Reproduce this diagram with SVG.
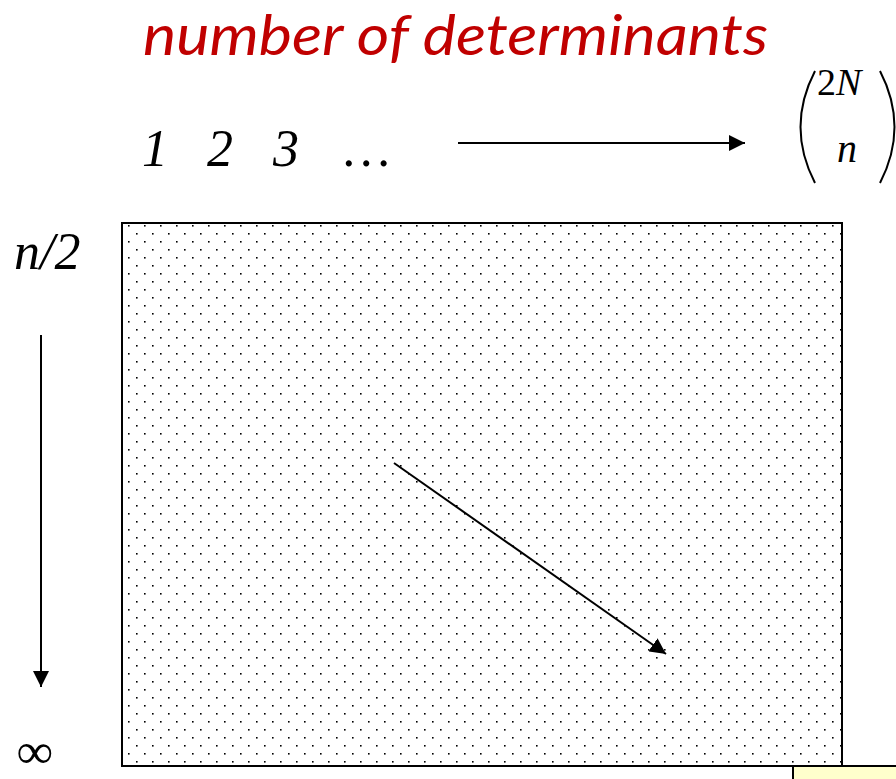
<svg xmlns="http://www.w3.org/2000/svg" width="896" height="779" viewBox="0 0 896 779">
<style>
.title{font-family:"Lato","Liberation Sans",sans-serif;font-style:italic;font-size:56px;fill:#C00000}
.math{font-family:"Liberation Serif","Times New Roman",serif;font-style:italic;fill:#000}
.up{font-family:"Liberation Serif","Times New Roman",serif;fill:#000}
.conn{stroke:#000;stroke-width:2;fill:none}
</style>
<defs>
<pattern id="dots" x="122" y="222" width="16" height="16" patternUnits="userSpaceOnUse">
<rect x="6" y="3" width="1.6" height="1.6" fill="#000"/>
<rect x="14" y="11" width="1.6" height="1.6" fill="#000"/>
</pattern>
<marker id="ahL" viewBox="0 0 10 10" refX="10" refY="5" markerWidth="16" markerHeight="16" orient="auto" markerUnits="userSpaceOnUse">
<path d="M0,0 L10,5 L0,10 Z" fill="#000"/>
</marker>
</defs>
<rect width="896" height="779" fill="#fff"/>
<g id="title"><text class="title" x="143" y="55" textLength="625" lengthAdjust="spacingAndGlyphs">number of determinants</text></g>
<g id="counts">
<text class="math" x="142" y="166" font-size="52">1</text>
<text class="math" x="207" y="166" font-size="52">2</text>
<text class="math" x="273" y="166" font-size="52">3</text>
<text class="math" x="344" y="166" font-size="52">…</text>
</g>
<g id="binomial">
<path d="M815,71 Q786,127 815,183" stroke="#000" stroke-width="2" fill="none"/>
<path d="M880,71 Q909,127 880,183" stroke="#000" stroke-width="2" fill="none"/>
<text class="up" x="817" y="95" font-size="38">2<tspan class="math">N</tspan></text>
<text class="math" x="837" y="162" font-size="40">n</text>
</g>
<g id="n-half"><text class="math" x="14" y="269" font-size="52">n/2</text></g>
<g id="infinity"><text class="math" x="17" y="768" font-size="50">∞</text></g>
<g id="grid">
<rect x="122" y="223" width="720" height="543" fill="url(#dots)" stroke="#000" stroke-width="2"/>
</g>
<g id="note">
<rect x="793" y="766" width="110" height="20" fill="#FFFFCC" stroke="#000" stroke-width="2"/>
</g>
<g id="connectors">
<line class="conn" x1="458" y1="143" x2="745" y2="143" marker-end="url(#ahL)"/>
<line class="conn" x1="41" y1="335" x2="41" y2="687" marker-end="url(#ahL)"/>
<line class="conn" x1="394" y1="463" x2="666" y2="654" marker-end="url(#ahL)"/>
</g>
</svg>
